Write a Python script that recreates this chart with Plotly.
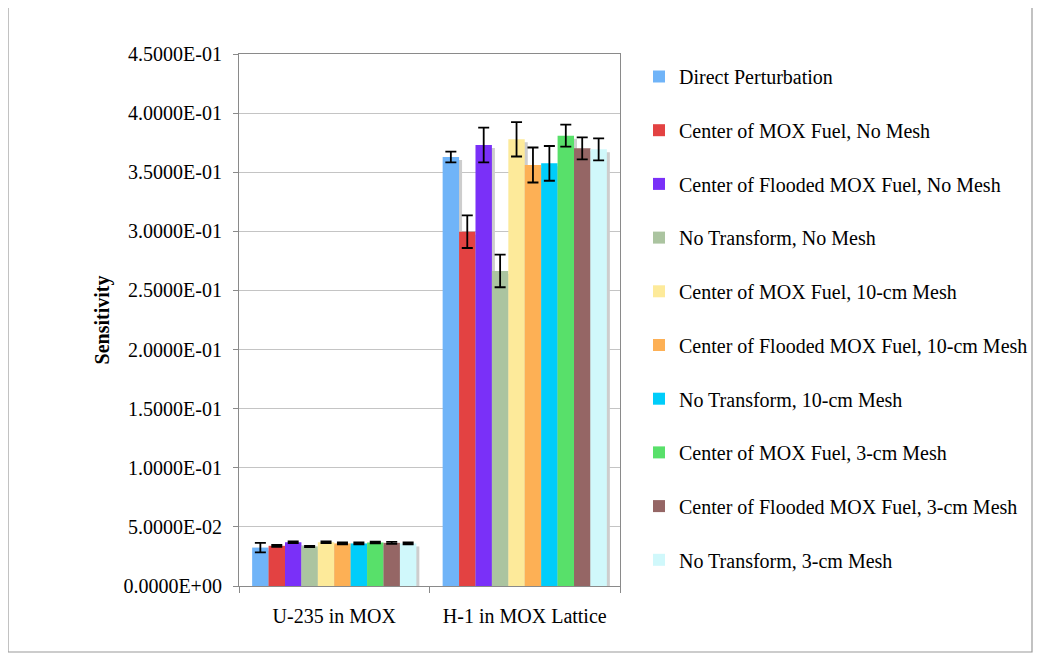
import plotly.graph_objects as go

categories = ["U-235 in MOX", "H-1 in MOX Lattice"]

series_names = [
    "Direct Perturbation",
    "Center of MOX Fuel, No Mesh",
    "Center of Flooded MOX Fuel, No Mesh",
    "No Transform, No Mesh",
    "Center of MOX Fuel, 10-cm Mesh",
    "Center of Flooded MOX Fuel, 10-cm Mesh",
    "No Transform, 10-cm Mesh",
    "Center of MOX Fuel, 3-cm Mesh",
    "Center of Flooded MOX Fuel, 3-cm Mesh",
    "No Transform, 3-cm Mesh",
]

u235_values = [0.0325, 0.0340, 0.0370, 0.0335, 0.0370, 0.0360, 0.0360, 0.0368, 0.0365, 0.0360]
u235_errors = [0.0040, 0.0008, 0.0008, 0.0005, 0.0008, 0.0008, 0.0008, 0.0008, 0.0008, 0.0008]

h1_values = [0.3629, 0.2997, 0.3730, 0.2665, 0.3778, 0.3561, 0.3575, 0.3809, 0.3702, 0.3694]
h1_errors = [0.0045, 0.0138, 0.0147, 0.0138, 0.0145, 0.0148, 0.0147, 0.0093, 0.0093, 0.0093]

colors = ["#70b4f8", "#e34242", "#7a30f8", "#abc4a0", "#fdea9a",
          "#fdb055", "#00cdfa", "#58e06a", "#956665", "#d0f8fb"]

y_tick_values = [0.0, 0.05, 0.10, 0.15, 0.20, 0.25, 0.30, 0.35, 0.40, 0.45]
y_tick_labels = [f"{v:.4E}" for v in y_tick_values]

FONT = "Liberation Serif, Times New Roman, serif"

# page has an 8px body margin; figure coordinates = screen - 8
W, H = 1025, 646
ML, MT = 231, 46
PLOT_R, PLOT_B = 612, 578
MR, MB = W - PLOT_R, H - PLOT_B

n = len(series_names)
group_frac = 0.862
bw = group_frac / n
pw = W - ML - MR
ph = H - MT - MB
shadow_dx = 3 / (pw / 2)
shadow_dy = 3 * 0.45 / ph

fig = go.Figure()

# soft shadows behind bars
for i in range(n):
    vals = [u235_values[i] - shadow_dy, h1_values[i] - shadow_dy]
    fig.add_trace(go.Bar(
        x=categories, y=vals,
        width=bw, offset=-group_frac / 2 + i * bw + shadow_dx,
        marker=dict(color="#cdcdcd", line=dict(width=0)),
        showlegend=False, hoverinfo="skip",
    ))

for i in range(n):
    fig.add_trace(go.Bar(
        x=categories, y=[u235_values[i], h1_values[i]],
        name=series_names[i],
        legendgroup=f"g{i}",
        width=bw, offset=-group_frac / 2 + i * bw,
        marker=dict(color=colors[i], line=dict(width=0)),
        error_y=dict(type="data", array=[u235_errors[i], h1_errors[i]],
                     color="black", thickness=1.8, width=5.5),
    ))

# chart outer border (screen px 8..1032, 7..652)
bx0, bx1, by0, by1 = 0, 1024, -1, 644
fig.add_shape(type="rect", xref="paper", yref="paper",
              x0=(bx0 - ML) / pw, x1=(bx1 - ML) / pw,
              y0=(PLOT_B - by1) / ph, y1=(PLOT_B - by0) / ph,
              line=dict(color="#9a9a9a", width=1.2), fillcolor="rgba(0,0,0,0)",
              layer="below")

fig.update_layout(
    width=W, height=H,
    margin=dict(l=ML, r=MR, t=MT, b=MB, autoexpand=False),
    barmode="overlay",
    paper_bgcolor="white", plot_bgcolor="white",
    font=dict(family=FONT, size=20, color="black"),
    showlegend=True,
    legend=dict(
        x=(631 - ML) / pw, xanchor="left",
        y=(PLOT_B - 49) / ph, yanchor="top",
        font=dict(family=FONT, size=20, color="black"),
        traceorder="grouped", tracegroupgap=24.7,
        bgcolor="rgba(0,0,0,0)",
        maxheight=620,
    ),
    xaxis=dict(
        type="category",
        showline=True, linecolor="#8a8a8a", linewidth=1.2,
        mirror=True,
        ticks="outside", ticklen=6, tickcolor="#8a8a8a",
        tickson="boundaries",
        ticklabelstandoff=12,
        tickfont=dict(family=FONT, size=20, color="black"),
        showgrid=False,
        range=[-0.5, 1.5],
    ),
    yaxis=dict(
        range=[0, 0.45],
        tickvals=y_tick_values, ticktext=y_tick_labels,
        showline=True, linecolor="#8a8a8a", linewidth=1.2,
        mirror=True,
        ticks="outside", ticklen=5, tickcolor="#8a8a8a",
        ticklabelstandoff=7,
        showgrid=True, gridcolor="#c4c4c4", gridwidth=1,
        tickfont=dict(family=FONT, size=20, color="black"),
        title=dict(text="<b>Sensitivity</b>",
                   font=dict(family=FONT, size=20, color="black"),
                   standoff=8),
        zeroline=False,
    ),
)

fig.write_html("out.html")
